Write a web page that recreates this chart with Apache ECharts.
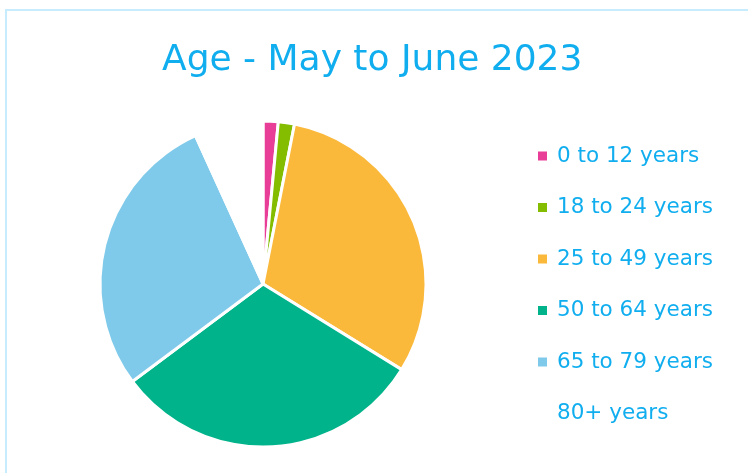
<!DOCTYPE html>
<html>
<head>
<meta charset="utf-8">
<script src="https://cdn.jsdelivr.net/npm/echarts@6/dist/echarts.min.js"></script>
<style>
  html, body { margin: 0; padding: 0; background: #fff; }
  #chart { width: 748px; height: 473px; }
</style>
</head>
<body>
<div id="chart"></div>
<script>
var categories = ['0 to 12 years', '18 to 24 years', '25 to 49 years', '50 to 64 years', '65 to 79 years', '80+ years'];
var shares = [1.5, 1.6, 30.7, 31.0, 28.4, 6.8];
var colors = ['#e83e97', '#84bd00', '#fbb93c', '#00b38a', '#7fcaea', '#ffffff'];

var chart = echarts.init(document.getElementById('chart'));

var option = {
  backgroundColor: '#ffffff',
  color: colors,
  title: {
    text: 'Age - May to June 2023',
    left: 162,
    top: 43,
    padding: 0,
    textStyle: {
      color: '#11aeef',
      fontFamily: 'DejaVu Sans',
      fontWeight: 'normal',
      fontSize: 36
    }
  },
  legend: {
    orient: 'vertical',
    left: 531,
    top: 140,
    itemWidth: 11,
    itemHeight: 11,
    itemGap: 29.5,
    icon: 'rect',
    textStyle: {
      color: '#11aeef',
      fontFamily: 'DejaVu Sans',
      fontSize: 21.5,
      lineHeight: 22,
      padding: [0, 0, 0, 4]
    },
    data: categories
  },
  graphic: [{
    type: 'rect',
    shape: { x: 6, y: 10, width: 800, height: 500 },
    style: { fill: 'none', stroke: '#c6ecfd', lineWidth: 2 },
    silent: true
  }],
  series: [{
    type: 'pie',
    center: [263, 284],
    radius: 163,
    startAngle: 90,
    label: { show: false },
    labelLine: { show: false },
    emphasis: { disabled: true },
    itemStyle: { borderColor: '#ffffff', borderWidth: 3 },
    data: categories.map(function (c, i) {
      return { name: c, value: shares[i] };
    })
  }]
};

chart.setOption(option);
</script>
</body>
</html>
